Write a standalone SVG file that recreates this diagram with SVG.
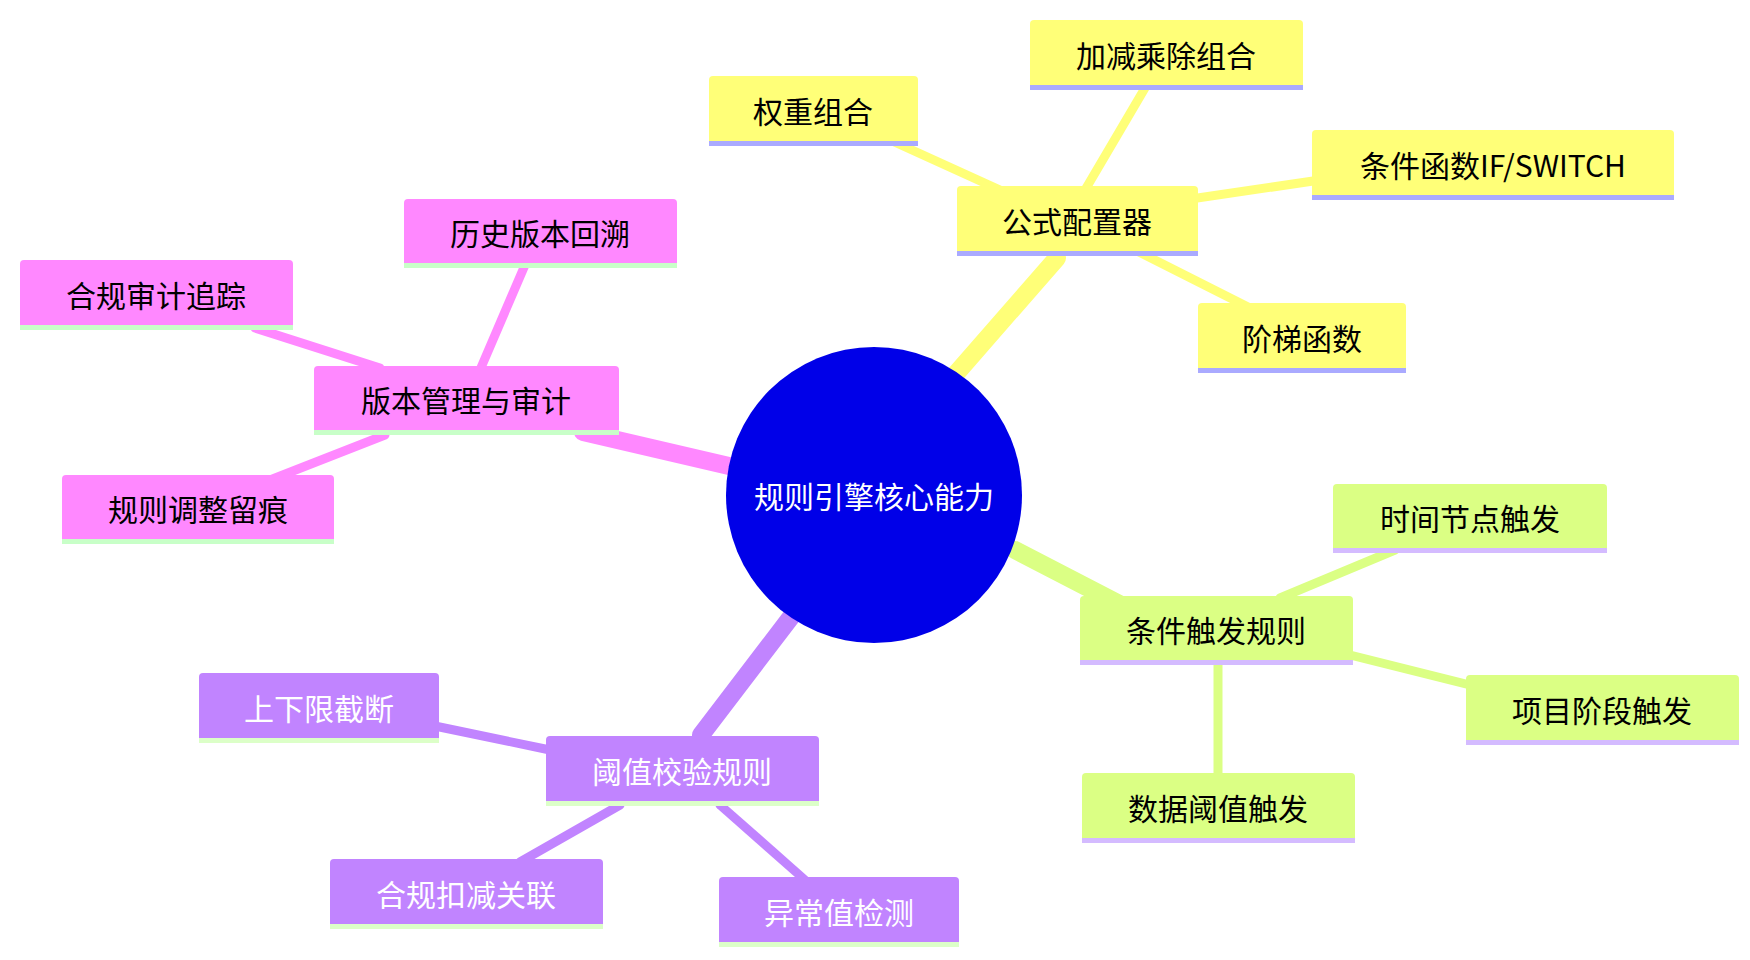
<svg xmlns="http://www.w3.org/2000/svg" width="1750" height="960" viewBox="0 0 1750 960">
<style>
text{font-family:"Noto Sans CJK SC","Noto Sans",sans-serif;font-size:30px;text-anchor:middle;dominant-baseline:central}
.y rect.b{fill:#ffff78}.y rect.s{fill:#aaaaff}
.p rect.b{fill:#ff88ff}.p rect.s{fill:#c8ffc8}
.g rect.b{fill:#dbff84}.g rect.s{fill:#d4bbff}
.v rect.b{fill:#c184ff}.v rect.s{fill:#dcffc8}
.v text{fill:#fff}
</style>
<g id="connectors" stroke-linecap="round">
<g stroke="#ffff78">
<line x1="954" y1="376" x2="1057" y2="258" stroke-width="18"/>
<line x1="1000" y1="190" x2="890" y2="140" stroke-width="9"/>
<line x1="1085" y1="190" x2="1145" y2="88" stroke-width="9"/>
<line x1="1150" y1="205" x2="1320" y2="180" stroke-width="9"/>
<line x1="1135" y1="250" x2="1250" y2="308" stroke-width="9"/>
</g>
<g stroke="#ff88ff">
<line x1="729" y1="466" x2="583" y2="432" stroke-width="18"/>
<line x1="480" y1="370" x2="525" y2="265" stroke-width="9"/>
<line x1="380" y1="368" x2="255" y2="328" stroke-width="9"/>
<line x1="385" y1="435" x2="270" y2="480" stroke-width="9"/>
</g>
<g stroke="#dbff84">
<line x1="1015" y1="550" x2="1156" y2="623" stroke-width="18"/>
<line x1="1280" y1="598" x2="1395" y2="550" stroke-width="9"/>
<line x1="1350" y1="655" x2="1470" y2="685" stroke-width="9"/>
<line x1="1218" y1="665" x2="1218" y2="775" stroke-width="9"/>
</g>
<g stroke="#c184ff">
<line x1="791" y1="617" x2="701" y2="735" stroke-width="18"/>
<line x1="550" y1="750" x2="430" y2="725" stroke-width="9"/>
<line x1="620" y1="805" x2="520" y2="862" stroke-width="9"/>
<line x1="720" y1="805" x2="805" y2="880" stroke-width="9"/>
</g>
</g>
<g id="center"><circle cx="874" cy="495" r="148" fill="#0000e8"/><text x="874" y="495" fill="#fff">规则引擎核心能力</text></g>
<g id="n1" class="y"><rect class="b" x="957" y="186" width="241" height="70" rx="4"/><rect class="s" x="957" y="251" width="241" height="5"/><text x="1077" y="220">公式配置器</text></g>
<g id="n1a" class="y"><rect class="b" x="709" y="76" width="209" height="70" rx="4"/><rect class="s" x="709" y="141" width="209" height="5"/><text x="813" y="110">权重组合</text></g>
<g id="n1b" class="y"><rect class="b" x="1030" y="20" width="273" height="70" rx="4"/><rect class="s" x="1030" y="85" width="273" height="5"/><text x="1166" y="54">加减乘除组合</text></g>
<g id="n1c" class="y"><rect class="b" x="1312" y="130" width="362" height="70" rx="4"/><rect class="s" x="1312" y="195" width="362" height="5"/><text x="1493" y="164">条件函数IF/SWITCH</text></g>
<g id="n1d" class="y"><rect class="b" x="1198" y="303" width="208" height="70" rx="4"/><rect class="s" x="1198" y="368" width="208" height="5"/><text x="1302" y="337">阶梯函数</text></g>
<g id="n2" class="p"><rect class="b" x="314" y="366" width="305" height="69" rx="4"/><rect class="s" x="314" y="430" width="305" height="5"/><text x="466" y="399">版本管理与审计</text></g>
<g id="n2a" class="p"><rect class="b" x="404" y="199" width="273" height="69" rx="4"/><rect class="s" x="404" y="263" width="273" height="5"/><text x="540" y="232">历史版本回溯</text></g>
<g id="n2b" class="p"><rect class="b" x="20" y="260" width="273" height="70" rx="4"/><rect class="s" x="20" y="325" width="273" height="5"/><text x="156" y="294">合规审计追踪</text></g>
<g id="n2c" class="p"><rect class="b" x="62" y="475" width="272" height="69" rx="4"/><rect class="s" x="62" y="539" width="272" height="5"/><text x="198" y="508">规则调整留痕</text></g>
<g id="n3" class="g"><rect class="b" x="1080" y="596" width="273" height="69" rx="4"/><rect class="s" x="1080" y="660" width="273" height="5"/><text x="1216" y="629">条件触发规则</text></g>
<g id="n3a" class="g"><rect class="b" x="1333" y="484" width="274" height="69" rx="4"/><rect class="s" x="1333" y="548" width="274" height="5"/><text x="1470" y="517">时间节点触发</text></g>
<g id="n3b" class="g"><rect class="b" x="1466" y="675" width="273" height="70" rx="4"/><rect class="s" x="1466" y="740" width="273" height="5"/><text x="1602" y="709">项目阶段触发</text></g>
<g id="n3c" class="g"><rect class="b" x="1082" y="773" width="273" height="70" rx="4"/><rect class="s" x="1082" y="838" width="273" height="5"/><text x="1218" y="807">数据阈值触发</text></g>
<g id="n4" class="v"><rect class="b" x="546" y="736" width="273" height="70" rx="4"/><rect class="s" x="546" y="801" width="273" height="5"/><text x="682" y="770">阈值校验规则</text></g>
<g id="n4a" class="v"><rect class="b" x="199" y="673" width="240" height="70" rx="4"/><rect class="s" x="199" y="738" width="240" height="5"/><text x="319" y="707">上下限截断</text></g>
<g id="n4b" class="v"><rect class="b" x="330" y="859" width="273" height="70" rx="4"/><rect class="s" x="330" y="924" width="273" height="5"/><text x="466" y="893">合规扣减关联</text></g>
<g id="n4c" class="v"><rect class="b" x="719" y="877" width="240" height="70" rx="4"/><rect class="s" x="719" y="942" width="240" height="5"/><text x="839" y="911">异常值检测</text></g>
</svg>
